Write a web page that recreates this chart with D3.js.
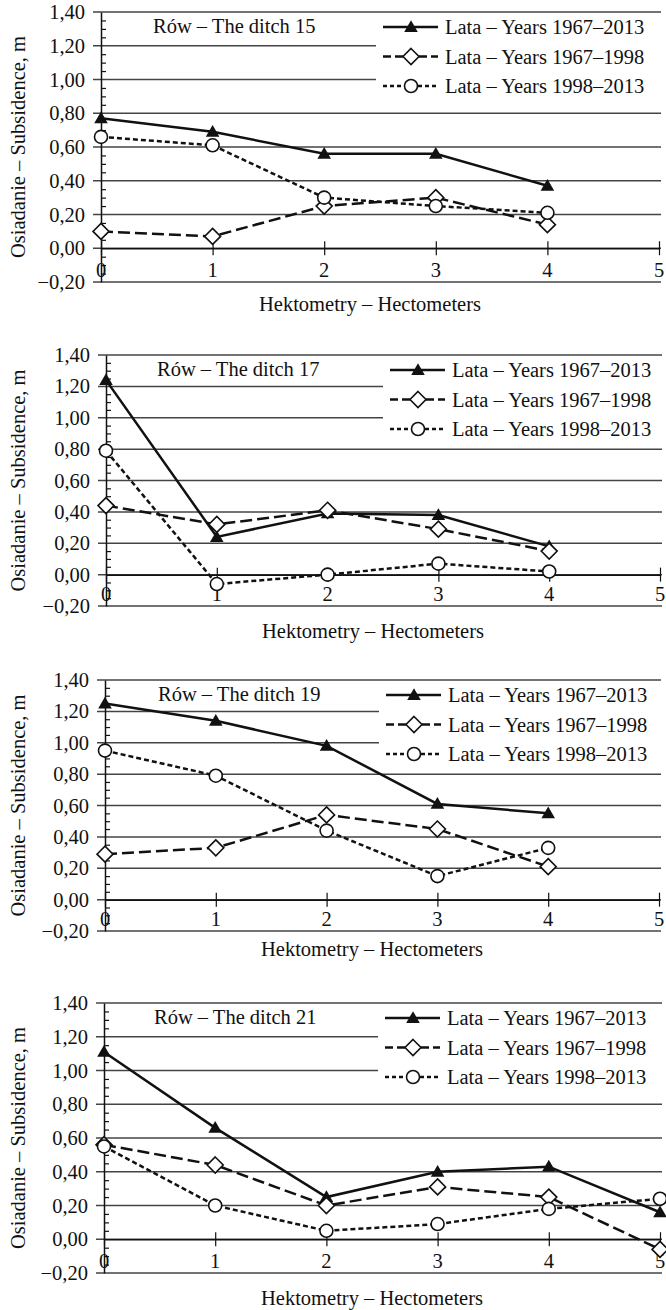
<!DOCTYPE html>
<html>
<head>
<meta charset="utf-8">
<script src="https://cdn.jsdelivr.net/npm/d3@7"></script>
<style>
  body { margin: 0; background: #fff; }
  svg text { font-family: "Liberation Serif", "Times New Roman", "DejaVu Serif", serif !important; fill: #111; }
</style>
</head>
<body>
<div id="chart"></div>
<script>
// data
var ditches = ['15', '17', '19', '21']
var hectometers = [0, 1, 2, 3, 4, 5]
var years6713 = [
	[0.77, 0.69, 0.56, 0.56, 0.37],
	[1.24, 0.24, 0.39, 0.38, 0.18],
	[1.25, 1.14, 0.98, 0.61, 0.55],
	[1.11, 0.66, 0.25, 0.40, 0.43, 0.16]
]
var years6798 = [
	[0.10, 0.07, 0.25, 0.30, 0.14],
	[0.44, 0.32, 0.41, 0.29, 0.15],
	[0.29, 0.33, 0.54, 0.45, 0.21],
	[0.56, 0.44, 0.20, 0.31, 0.25, -0.06]
]
var years9813 = [
	[0.66, 0.61, 0.30, 0.25, 0.21],
	[0.79, -0.06, 0.00, 0.07, 0.02],
	[0.95, 0.79, 0.44, 0.15, 0.33],
	[0.55, 0.20, 0.05, 0.09, 0.18, 0.24]
]
var seriesNames = ['Lata – Years 1967–2013', 'Lata – Years 1967–1998', 'Lata – Years 1998–2013']
var yTicks = [-0.2, 0, 0.2, 0.4, 0.6, 0.8, 1.0, 1.2, 1.4]
var xTitle = 'Hektometry – Hectometers'
var yTitle = 'Osiadanie – Subsidence, m'

// panel placement (pixels)
var layout = [
	{top: 12, bottom: 282, left: 101, right: 659, titleX: 153, legendX: 383, labelY: 311},
	{top: 355, bottom: 606, left: 106, right: 660, titleX: 157, legendX: 390, labelY: 638},
	{top: 680, bottom: 931, left: 105, right: 659, titleX: 158, legendX: 386, labelY: 956},
	{top: 1003, bottom: 1273, left: 104, right: 660, titleX: 154, legendX: 385, labelY: 1305}
]

var styles = [
	{dash: null, marker: 'triangle'},
	{dash: '12,5', marker: 'diamond'},
	{dash: '5,3', marker: 'circle'}
]

var serif = '"Liberation Serif", "Times New Roman", "DejaVu Serif", serif'
var svg = d3.select('#chart').append('svg').attr('width', 666).attr('height', 1310)
	.attr('font-family', serif)
var fmt = function(d) { return d3.format('.2f')(d).replace('.', ',').replace('-', '–') }

function drawMarker(g, type, cx, cy) {
	if(type == 'triangle') {
		g.append('path').attr('d', d3.symbol(d3.symbolTriangle, 80)())
			.attr('transform', 'translate(' + cx + ',' + (cy + 1) + ')')
			.attr('fill', '#111')
	} else if(type == 'diamond') {
		g.append('path').attr('d', 'M0,-8L8,0L0,8L-8,0Z')
			.attr('transform', 'translate(' + cx + ',' + cy + ')')
			.attr('fill', '#fff').attr('stroke', '#111').attr('stroke-width', 1.6)
	} else {
		g.append('circle').attr('cx', cx).attr('cy', cy).attr('r', 6.5)
			.attr('fill', '#fff').attr('stroke', '#111').attr('stroke-width', 1.6)
	}
}

ditches.forEach(function(ditch, p) {
	var L = layout[p]
	var g = svg.append('g')
	var x = d3.scaleLinear().domain([0, 5]).range([L.left, L.right])
	var y = d3.scaleLinear().domain([-0.2, 1.4]).range([L.bottom, L.top])

	// gridlines with left ticks
	g.selectAll('.grid').data(yTicks).enter().append('line')
		.attr('x1', L.left - 8).attr('x2', L.right + 2)
		.attr('y1', function(d) { return y(d) }).attr('y2', function(d) { return y(d) })
		.attr('stroke', '#444').attr('stroke-width', 1.5)

	// legend box hides gridlines behind it
	g.append('rect').attr('x', L.legendX - 7).attr('y', y(1.4) + 1.5)
		.attr('width', 666 - L.legendX + 7).attr('height', y(0.8) - y(1.4) - 14)
		.attr('fill', '#fff')

	// y axis
	var yAxis = g.append('g').attr('transform', 'translate(' + L.left + ',0)')
		.call(d3.axisLeft(y).tickValues(yTicks).tickSize(0).tickPadding(16).tickFormat(fmt))
		.attr('font-family', serif).attr('font-size', 20.5)
	yAxis.select('.domain').attr('stroke', '#111').attr('stroke-width', 1.5)
	yAxis.selectAll('text').attr('fill', '#111')

	var minor = d3.range(-0.2, 1.4, 0.05).filter(function(d) { return Math.round(d * 100) % 20 != 0 })
	g.append('g').attr('transform', 'translate(' + L.left + ',0)')
		.call(d3.axisRight(y).tickValues(minor).tickSize(5).tickFormat(''))
		.call(function(a) { a.select('.domain').remove(); a.selectAll('line').attr('stroke', '#111').attr('stroke-width', 1.2) })

	// x axis along zero
	var xAxis = g.append('g').attr('transform', 'translate(0,' + y(0) + ')')
		.call(d3.axisBottom(x).tickValues(hectometers).tickSize(0).tickFormat(''))
	xAxis.select('.domain').attr('stroke', '#111').attr('stroke-width', 1.5)
	xAxis.selectAll('.tick').append('line').attr('y1', -7).attr('y2', 7)
		.attr('stroke', '#111').attr('stroke-width', 1.2)
	g.selectAll('.xlab').data(hectometers).enter().append('text')
		.attr('x', function(d) { return x(d) }).attr('y', y(-0.2) - 5)
		.attr('text-anchor', 'middle').attr('font-size', 20.5)
		.text(function(d) { return d })

	// axis titles
	g.append('text').attr('x', (L.left + L.right) / 2 - 10).attr('y', L.labelY)
		.attr('text-anchor', 'middle').attr('font-size', 20.5).text(xTitle)
	g.append('text').attr('transform', 'translate(25,' + (L.top + L.bottom) / 2 + ') rotate(-90)')
		.attr('text-anchor', 'middle').attr('font-size', 20.5).text(yTitle)

	// panel title
	g.append('text').attr('x', L.titleX).attr('y', y(1.4) + 21)
		.attr('font-size', 20.5).text('Rów – The ditch ' + ditch)

	// series
	var sets = [years6713[p], years6798[p], years9813[p]]
	sets.forEach(function(vals, s) {
		var line = d3.line().x(function(d, i) { return x(hectometers[i]) }).y(function(d) { return y(d) })
		g.append('path').datum(vals).attr('d', line)
			.attr('fill', 'none').attr('stroke', '#111').attr('stroke-width', 2.5)
			.attr('stroke-dasharray', styles[s].dash)
		vals.forEach(function(v, i) { drawMarker(g, styles[s].marker, x(hectometers[i]), y(v)) })

		// legend row
		var ly = y(1.4) + 15 + s * 29.5
		g.append('line').attr('x1', L.legendX).attr('x2', L.legendX + 55)
			.attr('y1', ly).attr('y2', ly).attr('stroke', '#111').attr('stroke-width', 2.5)
			.attr('stroke-dasharray', s == 0 ? null : (s == 1 ? '8,4' : '4,3'))
		drawMarker(g, styles[s].marker, L.legendX + 28, ly)
		g.append('text').attr('x', L.legendX + 62).attr('y', ly + 7)
			.attr('font-size', 20.5).text(seriesNames[s])
	})
})
</script>
</body>
</html>
